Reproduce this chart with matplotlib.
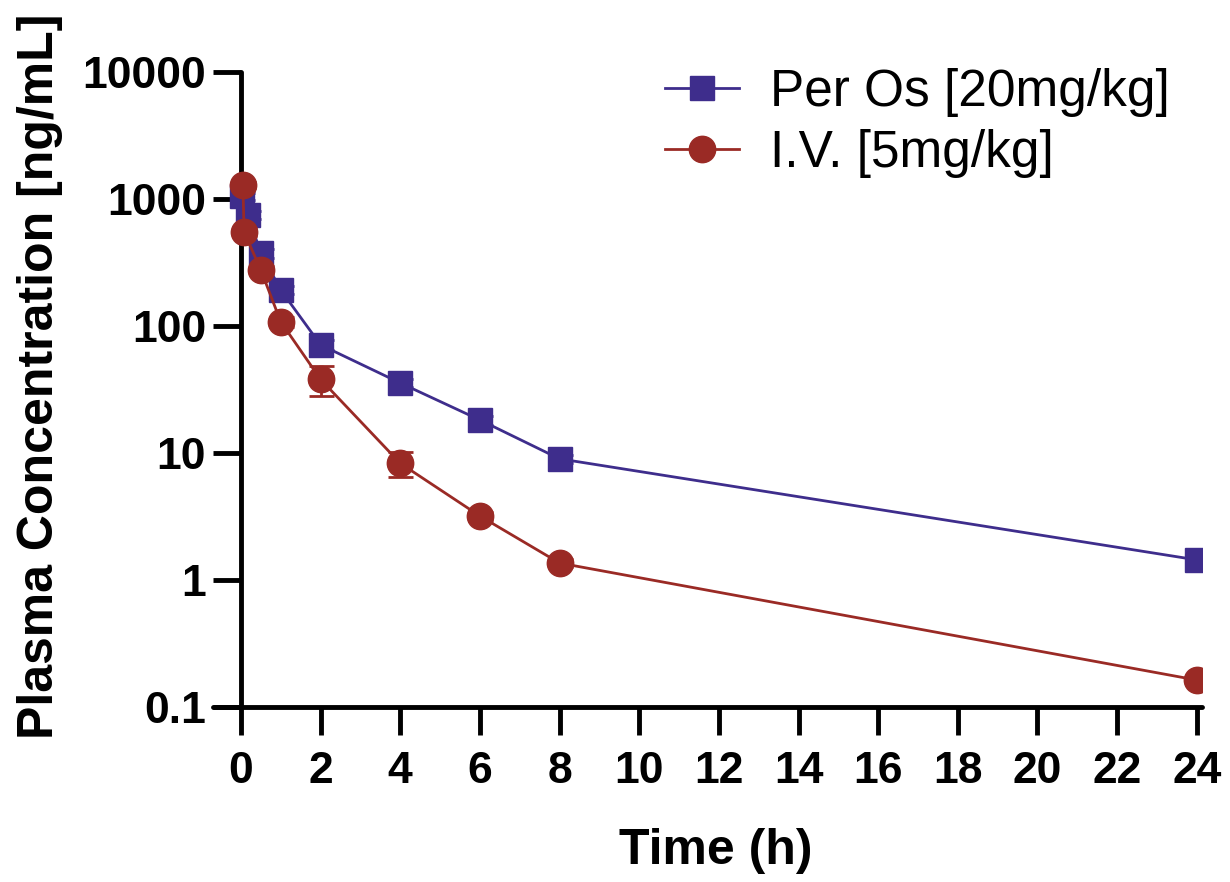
import matplotlib
matplotlib.use('Agg')
import matplotlib.pyplot as plt

# values (ng/mL)
po_time = [0.03, 0.17, 0.5, 1, 2, 4, 6, 8, 24]
po_conc = [1050, 750, 376, 192, 71, 35.6, 18.2, 9.0, 1.44]
po_err = [60, 50, 30, 15, 6, 2.5, 1.5, 0.6, 0.1]

iv_time = [0.05, 0.08, 0.5, 1, 2, 4, 6, 8, 24]
iv_conc = [1290, 550, 276, 108, 38, 8.3, 3.19, 1.36, 0.163]
iv_err = [80, 40, 20, 10, 10, 1.8, 0.25, 0.1, 0.01]

x_ticks = list(range(0, 25, 2))
y_ticks = [0.1, 1, 10, 100, 1000, 10000]
y_labels = ['0.1', '1', '10', '100', '1000', '10000']

po_color = '#3E2D8C'
iv_color = '#9A2A25'

plt.rcParams['font.family'] = ['Liberation Sans', 'DejaVu Sans']

fig = plt.figure(figsize=(12.3, 8.82), dpi=100)
ax = fig.add_axes([0.1732, 0.1984, 0.804, 0.720])

ax.errorbar(po_time, po_conc, yerr=po_err, fmt='none', ecolor=po_color,
            elinewidth=2, capsize=9, capthick=2, zorder=2)
po_line, = ax.plot(po_time, po_conc, color=po_color, lw=2, marker='s',
                   ms=17, mec=po_color, mfc=po_color, zorder=3,
                   label='Per Os [20mg/kg]')
ax.errorbar(iv_time, iv_conc, yerr=iv_err, fmt='none', ecolor=iv_color,
            elinewidth=2, capsize=9, capthick=2, zorder=4)
iv_line, = ax.plot(iv_time, iv_conc, color=iv_color, lw=2, marker='o',
                   ms=19, mec=iv_color, mfc=iv_color, zorder=5,
                   label='I.V. [5mg/kg]')

ax.set_yscale('log')
ax.set_xlim(-0.7, 24.13)
ax.set_ylim(0.1, 10000)
ax.set_xticks(x_ticks)
ax.set_xticklabels([str(t) for t in x_ticks])
ax.set_yticks(y_ticks)
ax.set_yticklabels(y_labels)
ax.minorticks_off()

ax.spines['top'].set_visible(False)
ax.spines['right'].set_visible(False)
ax.spines['left'].set_position(('data', 0))
for s in ['left', 'bottom']:
    ax.spines[s].set_linewidth(3.5)
    ax.spines[s].set_capstyle('round')

ax.tick_params(axis='both', width=3.5, length=20, labelsize=32)
ax.tick_params(axis='y', pad=5)
ax.tick_params(axis='x', pad=12)
for lab in ax.get_xticklabels() + ax.get_yticklabels():
    lab.set_fontweight('bold')

ax.set_ylabel('Plasma Concentration [ng/mL]', fontsize=36, fontweight='bold')
ax.set_xlabel('Time (h)', fontsize=36, fontweight='bold')
ax.yaxis.set_label_coords(-0.152, 0.52)
ax.xaxis.set_label_coords(0.508, -0.19)

fig.legend(handles=[po_line, iv_line], loc='upper left',
           bbox_to_anchor=(0.503, 0.975), frameon=False, fontsize=37,
           handlelength=1.45, handletextpad=0.6, labelspacing=0.22)

plt.savefig('out.png', dpi=100)
